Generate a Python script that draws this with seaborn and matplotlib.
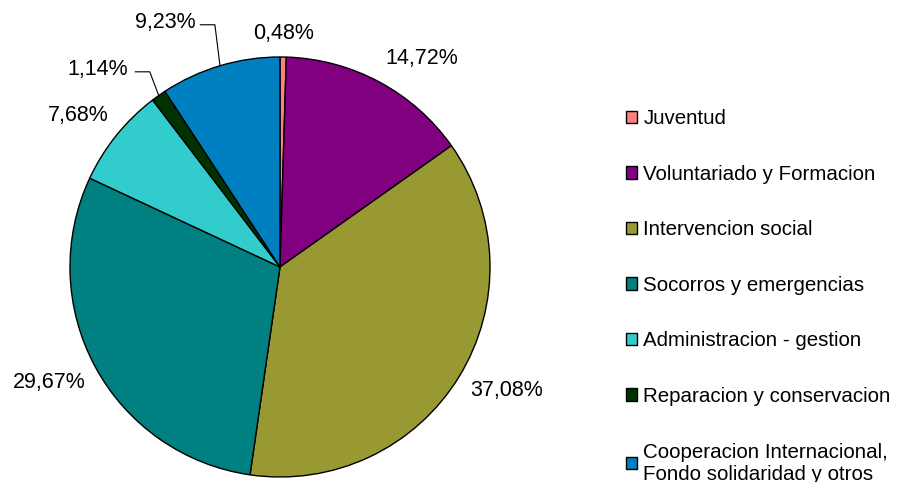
import numpy as np
import matplotlib
matplotlib.use("Agg")
import matplotlib.pyplot as plt
import seaborn as sns
from matplotlib.patches import Patch

categories = ["Juventud", "Voluntariado y Formacion", "Intervencion social",
              "Socorros y emergencias", "Administracion - gestion",
              "Reparacion y conservacion",
              "Cooperacion Internacional,\nFondo solidaridad y otros"]
values = [0.48, 14.72, 37.08, 29.67, 7.68, 1.14, 9.23]
pct_labels = ["0,48%", "14,72%", "37,08%", "29,67%", "7,68%", "1,14%", "9,23%"]
colors = ["#FF8080", "#800080", "#999933", "#008080", "#33CCCC", "#003300", "#0080C0"]

sns.set_theme(style="white")
plt.rcParams['font.family'] = ['Liberation Sans', 'DejaVu Sans']
plt.rcParams['text.color'] = 'black'

fig = plt.figure(figsize=(9, 4.82), dpi=100)
ax = fig.add_axes([70/900, 1 - 477/482, 420/900, 420/482])
wedges, _ = ax.pie(values, colors=colors, startangle=90, counterclock=False,
                   wedgeprops=dict(edgecolor="black", linewidth=1.0))
ax.set_xlim(-1, 1)
ax.set_ylim(-1, 1)
ax.set_aspect("equal")
ax.axis("off")

# label placement: (angle offset in deg, distance) relative to wedge mid-angle
place = [(0.0, 1.11), (-6.0, 1.2), (3.0, 1.23), (-1.8, 1.23), (2.0, 1.2),
         (7.5, 1.28), (8.5, 1.285)]
for w, lab, (da, dist) in zip(wedges, pct_labels, place):
    mid = 0.5 * (w.theta1 + w.theta2)
    a = np.deg2rad(mid + da)
    ax.text(dist * np.cos(a), dist * np.sin(a), lab, ha="center", va="center",
            fontsize=15.5, color="black", clip_on=False)

# leader lines for the two small slices at top-left
for idx, xs_h in [(5, (-0.69, -0.62)), (6, (-0.38, -0.31))]:
    w = wedges[idx]
    mid = np.deg2rad(0.5 * (w.theta1 + w.theta2))
    ex, ey = np.cos(mid), np.sin(mid)
    a = np.deg2rad(np.rad2deg(mid) + place[idx][0])
    ty = place[idx][1] * np.sin(a)
    ax.plot([xs_h[0], xs_h[1], ex], [ty - 0.01, ty - 0.01, ey], color="black",
            linewidth=0.8, clip_on=False)

handles = [Patch(facecolor=c, edgecolor="black", linewidth=1.0) for c in colors]
leg = fig.legend(handles, categories, loc="upper left", bbox_to_anchor=(626/900, 1 - 109/482),
                 frameon=False, fontsize=14.8, handlelength=0.55, handleheight=0.55,
                 handletextpad=0.3, labelspacing=1.78, borderpad=0, borderaxespad=0)
for t in leg.get_texts():
    t.set_color("black")

fig.savefig("out.png", dpi=100, facecolor="white")
